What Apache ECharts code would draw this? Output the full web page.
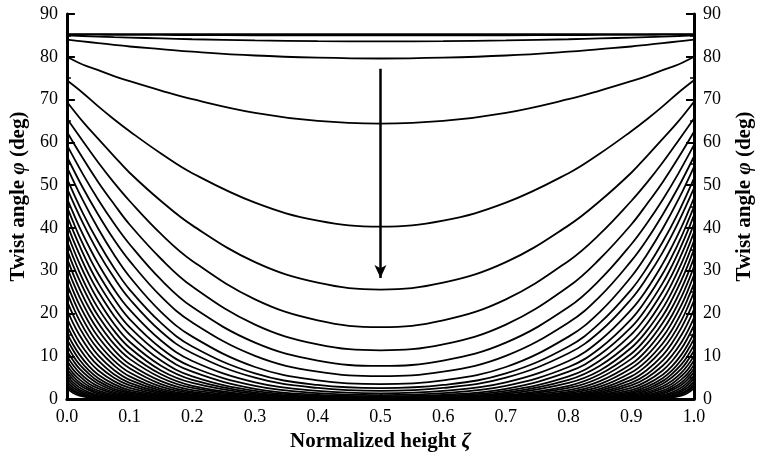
<!DOCTYPE html>
<html><head><meta charset="utf-8">
<script src="https://cdn.jsdelivr.net/npm/echarts@6/dist/echarts.min.js"></script>
<style>html,body{margin:0;padding:0;background:#fff}#c{width:763px;height:457px}</style>
</head><body><div id="c"></div>
<script>
// Half-profiles (zeta from 0 to 0.5); the curves are symmetric about zeta = 0.5
const zetaA = [0, 0.025, 0.05, 0.075, 0.1, 0.15, 0.2, 0.3, 0.4, 0.5];
const zetaB = [0, 0.01, 0.02, 0.035, 0.05, 0.075, 0.1, 0.15, 0.2, 0.3, 0.4, 0.5];

const c01 = [85.3, 85.3, 85.3, 85.3, 85.3, 85.3, 85.3, 85.3, 85.3, 85.3];
const c02 = [85.2, 85.18, 85.16, 85.14, 85.13, 85.1, 85.07, 85.03, 85.01, 85.0];
const c03 = [85.0, 84.86, 84.73, 84.61, 84.5, 84.29, 84.1, 83.82, 83.66, 83.6];
const c04 = [84.0, 83.6, 83.2, 82.8, 82.4, 81.8, 81.2, 80.3, 79.8, 79.6];
const c05 = [80.0, 78.2, 76.9, 75.5, 74.3, 72.1, 70.1, 66.9, 65.0, 64.4];
const c06 = [74.5, 71.6, 68.4, 65.4, 62.6, 57.4, 52.8, 45.9, 41.7, 40.3];
const c07 = [69.5, 64.9, 60.8, 56.8, 52.9, 46.3, 40.6, 32.0, 27.2, 25.6];
const c08 = [65.6, 60.4, 55.3, 50.6, 46.3, 38.6, 32.3, 23.3, 18.4, 16.8];
const c09 = [62.5, 56.4, 50.7, 45.6, 40.8, 32.8, 26.3, 17.4, 12.8, 11.4];
const c10 = [59.4, 52.7, 46.6, 41.1, 36.2, 27.9, 21.5, 13.2, 9.0, 7.75];
const c11 = [56.7, 49.5, 43.1, 37.3, 32.3, 24.0, 17.9, 10.1, 6.4, 5.36];
const c12 = [54.3, 46.6, 39.8, 33.8, 28.6, 20.4, 14.6, 7.5, 4.4, 3.5];
const c13 = [51.6, 43.6, 36.7, 30.7, 25.6, 17.8, 12.3, 6.0, 3.3, 2.56];
const c14 = [49.3, 41.3, 34.3, 28.4, 23.4, 15.8, 10.7, 5.0, 2.6, 1.93];

const c15 = [47.0, 43.5, 40.2, 35.7, 31.6, 25.7, 20.9, 13.7, 8.9, 3.9, 1.9, 1.35];
const c16 = [45.0, 41.4, 38.0, 33.4, 29.3, 23.5, 18.7, 11.9, 7.5, 3.1, 1.4, 0.95];
const c17 = [43.0, 39.3, 35.9, 31.2, 27.1, 21.4, 16.8, 10.4, 6.4, 2.4, 1.0, 0.67];
const c18 = [41.0, 37.2, 33.8, 29.1, 25.1, 19.5, 15.1, 9.0, 5.3, 1.9, 0.75, 0.47];
const c19 = [39.0, 35.2, 31.7, 27.1, 23.1, 17.6, 13.4, 7.8, 4.5, 1.5, 0.55, 0.33];
const c20 = [37.0, 33.2, 29.7, 25.1, 21.2, 16.0, 12.0, 6.7, 3.8, 1.2, 0.4, 0.23];
const c21 = [35.0, 31.2, 27.8, 23.3, 19.4, 14.4, 10.6, 5.8, 3.1, 0.9, 0.3, 0.17];
const c22 = [33.0, 29.2, 25.8, 21.4, 17.8, 12.9, 9.4, 5.0, 2.6, 0.7, 0.2, 0.12];
const c23 = [31.0, 27.2, 23.9, 19.6, 16.1, 11.5, 8.2, 4.2, 2.1, 0.6, 0.15, 0.07];
const c24 = [29.0, 25.3, 22.0, 17.9, 14.5, 10.2, 7.2, 3.5, 1.7, 0.4, 0.1, 0.05];
const c25 = [27.0, 23.4, 20.2, 16.2, 13.0, 9.0, 6.2, 2.9, 1.4, 0.3, 0.07, 0.03];
const c26 = [25.0, 21.5, 18.4, 14.6, 11.6, 7.9, 5.3, 2.4, 1.1, 0.24, 0.05, 0.02];
const c27 = [23.0, 19.6, 16.7, 13.1, 10.2, 6.8, 4.5, 2.0, 0.9, 0.17, 0.03, 0.01];
const c28 = [21.0, 17.7, 15.0, 11.6, 9.0, 5.8, 3.8, 1.6, 0.68, 0.12, 0.02, 0.01];
const c29 = [19.0, 15.9, 13.3, 10.2, 7.8, 5.0, 3.2, 1.3, 0.5, 0.09, 0.02, 0.01];
const c30 = [17.2, 14.3, 11.8, 8.9, 6.7, 4.2, 2.6, 1.0, 0.39, 0.07, 0.01, 0];
const c31 = [15.5, 12.7, 10.4, 7.7, 5.7, 3.5, 2.1, 0.78, 0.29, 0.05, 0, 0];
const c32 = [14.0, 11.4, 9.2, 6.7, 4.9, 2.9, 1.7, 0.6, 0.21, 0.03, 0, 0];
const c33 = [12.6, 10.1, 8.1, 5.9, 4.2, 2.4, 1.4, 0.47, 0.16, 0.02, 0, 0];
const c34 = [11.3, 9.0, 7.1, 5.1, 3.6, 2.0, 1.1, 0.36, 0.11, 0.01, 0, 0];
const c35 = [10.1, 7.9, 6.2, 4.3, 3.0, 1.6, 0.87, 0.26, 0.08, 0, 0, 0];
const c36 = [9.0, 6.9, 5.4, 3.6, 2.5, 1.3, 0.67, 0.18, 0.05, 0, 0, 0];
const c37 = [8.0, 6.0, 4.6, 3.0, 2.0, 0.98, 0.49, 0.12, 0.03, 0, 0, 0];
const c38 = [7.1, 5.3, 3.9, 2.5, 1.6, 0.75, 0.35, 0.08, 0.02, 0, 0, 0];
const c39 = [6.3, 4.6, 3.3, 2.1, 1.3, 0.57, 0.26, 0.05, 0.01, 0, 0, 0];
const c40 = [5.5, 3.9, 2.7, 1.6, 0.95, 0.4, 0.17, 0.03, 0, 0, 0, 0];
const c41 = [4.8, 3.3, 2.2, 1.3, 0.72, 0.28, 0.11, 0.02, 0, 0, 0, 0];
const c42 = [4.1, 2.7, 1.8, 0.94, 0.5, 0.18, 0.06, 0.01, 0, 0, 0, 0];
const c43 = [3.5, 2.2, 1.4, 0.7, 0.35, 0.11, 0.03, 0, 0, 0, 0, 0];
const c44 = [3.0, 1.82, 1.1, 0.52, 0.25, 0.07, 0.02, 0, 0, 0, 0, 0];
const c45 = [2.5, 1.44, 0.83, 0.36, 0.16, 0.04, 0.01, 0, 0, 0, 0, 0];

const arrowStart = [0.5, 77.2];
const arrowEnd = [0.5, 28.3];

const curvesA = [c01, c02, c03, c04, c05, c06, c07, c08, c09, c10, c11, c12, c13, c14];
const curvesB = [c15, c16, c17, c18, c19, c20, c21, c22, c23, c24, c25, c26, c27, c28, c29, c30,
                 c31, c32, c33, c34, c35, c36, c37, c38, c39, c40, c41, c42, c43, c44, c45];

function fullProfile(z, v) {
  const pts = z.map((x, i) => [x, v[i]]);
  for (let i = z.length - 2; i >= 0; i--) pts.push([1 - z[i], v[i]]);
  return pts;
}

const FONT = 'Liberation Serif';
const series = [];
curvesA.forEach(v => series.push(fullProfile(zetaA, v)));
curvesB.forEach(v => series.push(fullProfile(zetaB, v)));

const seriesOpts = series.map((d, i) => {
  const s = {
    type: 'line', data: d, showSymbol: false, smooth: 0.4,
    lineStyle: { color: '#000', width: 1.8 }, silent: true, animation: false
  };
  if (i === 0) {
    s.markLine = {
      silent: true, animation: false, symbol: ['none', 'arrow'], symbolSize: [9, 13],
      label: { show: false },
      lineStyle: { color: '#000', width: 2.5, type: 'solid' },
      data: [[{ coord: arrowStart }, { coord: arrowEnd }]]
    };
  }
  return s;
});

const yAxisCommon = {
  type: 'value', min: 0, max: 90, interval: 10,
  axisLine: { show: true, lineStyle: { color: '#000', width: 3 } },
  axisTick: { show: true, inside: true, length: 8, lineStyle: { color: '#000', width: 2 } },
  minorTick: { show: true, splitNumber: 2, length: 4, lineStyle: { color: '#000', width: 1.5 } },
  splitLine: { show: false },
  axisLabel: { color: '#000', fontFamily: FONT, fontSize: 18, margin: 9 },
  name: '{a|Twist angle }{b|φ}{a| (deg)}',
  nameLocation: 'middle', nameRotate: 90,
  nameTextStyle: {
    padding: [0, 0, 0, 20],
    rich: {
      a: { fontFamily: FONT, fontWeight: 'bold', fontSize: 21, color: '#000' },
      b: { fontFamily: FONT, fontWeight: 'bold', fontStyle: 'italic', fontSize: 21, color: '#000' }
    }
  }
};

const chart = echarts.init(document.getElementById('c'), null, { renderer: 'canvas' });
chart.setOption({
  animation: false,
  backgroundColor: '#fff',
  grid: { left: 66, right: 62, top: 14, bottom: 57, containLabel: false },
  xAxis: {
    type: 'value', min: 0, max: 1, interval: 0.1,
    axisLine: { show: true, onZero: false, lineStyle: { color: '#000', width: 3 } },
    axisTick: { show: true, inside: true, length: 6, lineStyle: { color: '#000', width: 2 } },
    splitLine: { show: false },
    axisLabel: { color: '#000', fontFamily: FONT, fontSize: 18, margin: 9, formatter: v => v.toFixed(1) },
    name: '{a|Normalized height }{b|ζ}',
    nameLocation: 'middle', nameGap: 28,
    nameTextStyle: {
      verticalAlign: 'top',
      rich: {
        a: { fontFamily: FONT, fontWeight: 'bold', fontSize: 21, color: '#000' },
        b: { fontFamily: FONT, fontWeight: 'bold', fontStyle: 'italic', fontSize: 21, color: '#000' }
      }
    }
  },
  yAxis: [
    Object.assign({}, yAxisCommon, { position: 'left', nameGap: 33 }),
    Object.assign({}, yAxisCommon, { position: 'right', nameGap: 40 })
  ],
  series: seriesOpts
});
</script>
</body></html>
